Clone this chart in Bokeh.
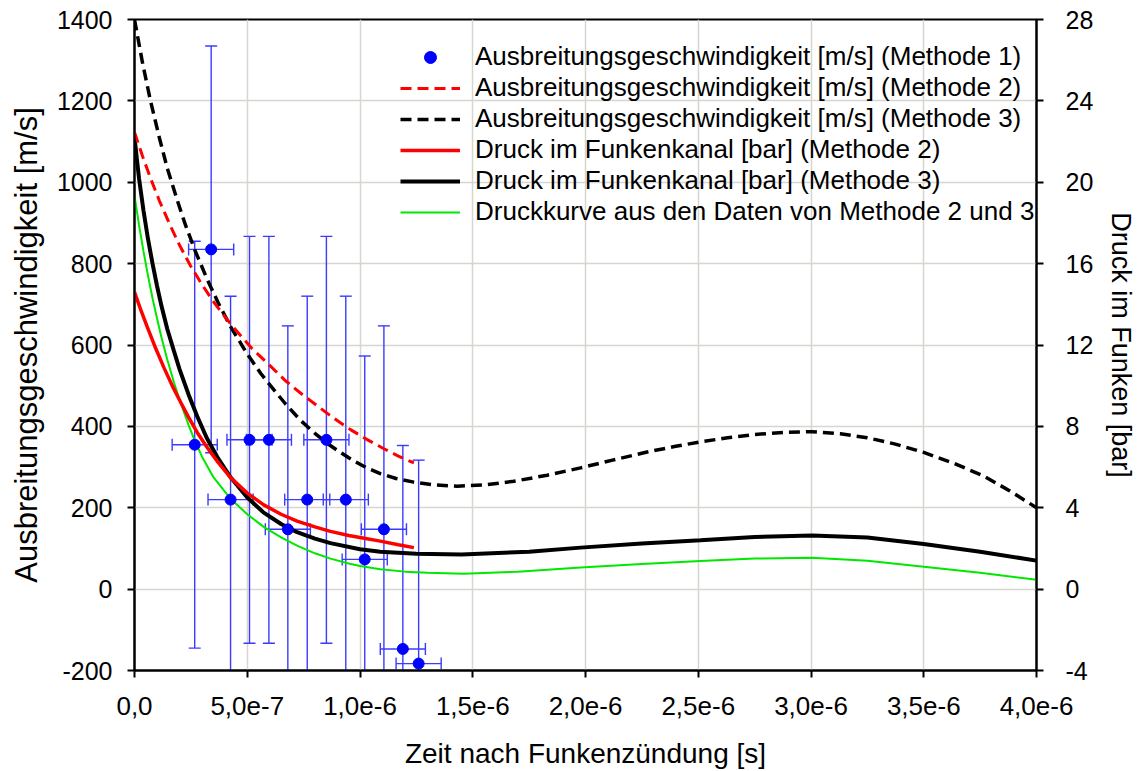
import math
from bokeh.plotting import figure
from bokeh.models import Range1d, LinearAxis, FixedTicker, Legend, LegendItem
from bokeh.embed import file_html
from bokeh.resources import INLINE

US = 1e-6  # microseconds -> seconds

# ---------------- data ----------------
# Methode 1: measured propagation speed with error bars
m1_t_us = [0.267, 0.340, 0.426, 0.510, 0.596, 0.680, 0.766, 0.851, 0.937, 1.021, 1.106, 1.190, 1.260]
m1_v = [355, 835, 220, 367, 367, 147, 220, 367, 220, 73, 147, -147, -183]
m1_t_err_us = 0.1
m1_v_err = 500

# Methode 2: propagation speed [m/s] (red dashed)
m2v_t_us = [0.0, 0.035, 0.071, 0.11, 0.16, 0.2, 0.248, 0.3, 0.352, 0.4, 0.455, 0.52, 0.603, 0.67,
            0.736, 0.8, 0.855, 0.91, 0.958, 1.03, 1.106, 1.17, 1.239]
m2v_v = [1123, 1065, 1010, 955, 892, 845, 795, 748, 705, 670, 633, 592, 548, 512,
         482, 455, 432, 410, 392, 368, 345, 327, 310]

# Methode 3: propagation speed [m/s] (black dashed)
m3v_t_us = [0.0, 0.035, 0.071, 0.11, 0.145, 0.19, 0.226, 0.27, 0.322, 0.37, 0.426, 0.5, 0.56, 0.603,
            0.67, 0.736, 0.8, 0.855, 0.91, 0.97, 1.03, 1.09, 1.16, 1.239, 1.33, 1.431, 1.55, 1.682,
            1.83, 1.978, 2.12, 2.273, 2.4, 2.51, 2.63, 2.75, 2.88, 3.005, 3.13, 3.249, 3.37, 3.5,
            3.63, 3.766, 3.88, 4.0]
m3v_v = [1400, 1295, 1200, 1110, 1035, 955, 895, 830, 762, 705, 645, 578, 530, 500,
         455, 415, 383, 358, 337, 316, 298, 284, 272, 263, 256, 253, 256, 265,
         280, 298, 317, 337, 351, 362, 372, 380, 385, 387, 382, 372, 357, 336,
         310, 278, 242, 200]

# Methode 2: pressure [bar] (red solid)
m2p_t_us = [0.0, 0.03, 0.056, 0.09, 0.13, 0.17, 0.204, 0.24, 0.278, 0.32, 0.37, 0.426, 0.5, 0.573,
            0.65, 0.721, 0.8, 0.869, 0.95, 1.0, 1.09, 1.17, 1.239]
m2p_bar = [14.6, 13.66, 12.9, 11.94, 10.9, 9.94, 9.2, 8.44, 7.7, 7.0, 6.24, 5.48, 4.72, 4.14,
           3.68, 3.34, 3.06, 2.84, 2.64, 2.54, 2.36, 2.18, 2.04]

# Methode 3: pressure [bar] (black solid)
m3p_t_us = [0.0, 0.02, 0.04, 0.06, 0.08, 0.1, 0.12, 0.145, 0.175, 0.2, 0.24, 0.278, 0.32, 0.37,
            0.426, 0.5, 0.573, 0.65, 0.721, 0.8, 0.869, 1.0, 1.09, 1.25, 1.45, 1.75, 1.978, 2.25,
            2.51, 2.75, 3.005, 3.25, 3.5, 3.75, 4.0]
m3p_bar = [22.2, 20.2, 18.6, 17.2, 16.0, 14.9, 13.9, 12.8, 11.7, 10.8, 9.56, 8.5, 7.44, 6.44,
           5.5, 4.5, 3.76, 3.2, 2.8, 2.48, 2.26, 1.96, 1.84, 1.74, 1.7, 1.84, 2.04, 2.24,
           2.4, 2.56, 2.64, 2.54, 2.22, 1.84, 1.4]

# Pressure curve from data of Methode 2 and 3 (green)
gp_t_us = [0.0, 0.02, 0.04, 0.06, 0.08, 0.1, 0.12, 0.145, 0.175, 0.2, 0.24, 0.267, 0.3, 0.35,
           0.426, 0.5, 0.573, 0.65, 0.721, 0.8, 0.869, 0.95, 1.0, 1.09, 1.2, 1.3, 1.46, 1.7,
           1.978, 2.25, 2.51, 2.75, 3.005, 3.25, 3.5, 3.75, 4.0]
gp_bar = [19.34, 17.9, 16.6, 15.4, 14.3, 13.3, 12.36, 11.3, 10.16, 9.3, 8.06, 7.3, 6.5, 5.5,
          4.44, 3.68, 3.06, 2.54, 2.14, 1.76, 1.5, 1.26, 1.14, 0.98, 0.86, 0.8, 0.76, 0.86,
          1.06, 1.24, 1.38, 1.5, 1.54, 1.4, 1.1, 0.8, 0.46]

x_ticks = [0.0, 5e-7, 1e-6, 1.5e-6, 2e-6, 2.5e-6, 3e-6, 3.5e-6, 4e-6]
x_tick_labels = ["0,0", "5,0e-7", "1,0e-6", "1,5e-6", "2,0e-6", "2,5e-6", "3,0e-6", "3,5e-6", "4,0e-6"]
y_ticks = [-200, 0, 200, 400, 600, 800, 1000, 1200, 1400]
y_tick_labels = ["-200", "0", "200", "400", "600", "800", "1000", "1200", "1400"]
bar_ticks = [-4, 0, 4, 8, 12, 16, 20, 24, 28]
bar_tick_labels = ["-4", "0", "4", "8", "12", "16", "20", "24", "28"]

legend_labels = [
    "Ausbreitungsgeschwindigkeit [m/s] (Methode 1)",
    "Ausbreitungsgeschwindigkeit [m/s] (Methode 2)",
    "Ausbreitungsgeschwindigkeit [m/s] (Methode 3)",
    "Druck im Funkenkanal [bar] (Methode 2)",
    "Druck im Funkenkanal [bar] (Methode 3)",
    "Druckkurve aus den Daten von Methode 2 und 3",
]

def sec(arr):
    return [v * US for v in arr]

FONT = "Liberation Sans"
BLUE = "#0000ff"
EBLUE = "#3b3bff"
RED = "#ff0000"
GREEN = "#00e800"

p = figure(width=1141, height=771, output_backend="svg", toolbar_location=None,
           x_range=Range1d(0, 4e-6), y_range=Range1d(-200, 1400),
           min_border_left=134, min_border_right=105, min_border_top=19, min_border_bottom=101)
p.extra_y_ranges = {"bar": Range1d(-4, 28)}

p.background_fill_color = "white"
p.border_fill_color = "white"
p.outline_line_color = "black"
p.outline_line_width = 2

# grid
p.xgrid.ticker = FixedTicker(ticks=x_ticks)
p.ygrid.ticker = FixedTicker(ticks=y_ticks)
for g in (p.xgrid, p.ygrid):
    g.grid_line_color = "#d6d6ce"
    g.grid_line_width = 1.5

# axes
p.xaxis.ticker = FixedTicker(ticks=x_ticks)
p.xaxis.major_label_overrides = dict(zip(x_ticks, x_tick_labels))
p.xaxis.axis_label = "Zeit nach Funkenzündung [s]"
p.yaxis.ticker = FixedTicker(ticks=y_ticks)
p.yaxis.major_label_overrides = dict(zip(y_ticks, y_tick_labels))
p.yaxis.axis_label = "Ausbreitungsgeschwindigkeit [m/s]"

rax = LinearAxis(y_range_name="bar", ticker=FixedTicker(ticks=bar_ticks),
                 axis_label="Druck im Funken [bar]")
rax.major_label_overrides = dict(zip(bar_ticks, bar_tick_labels))
p.add_layout(rax, "right")

for ax in (p.xaxis[0], p.yaxis[0], rax):
    ax.axis_line_width = 2
    ax.axis_line_color = "black"
    ax.major_tick_line_width = 2
    ax.major_tick_line_color = "black"
    ax.major_tick_out = 7
    ax.major_tick_in = 0
    ax.minor_tick_out = 0
    ax.minor_tick_in = 0
    ax.major_label_text_font = FONT
    ax.major_label_text_color = "black"
    ax.axis_label_text_font = FONT
    ax.axis_label_text_font_style = "normal"
    ax.axis_label_text_color = "black"

p.xaxis.major_label_text_font_size = "26px"
p.xaxis.major_label_standoff = 19
p.xaxis.axis_label_text_font_size = "28px"
p.xaxis.axis_label_standoff = 20

p.yaxis.major_label_text_font_size = "25px"
p.yaxis.major_label_standoff = 15
p.yaxis.axis_label_text_font_size = "31px"
p.yaxis.axis_label_standoff = 10

rax.major_label_text_font_size = "25px"
rax.major_label_standoff = 22
rax.axis_label_text_font_size = "27px"
rax.axis_label_standoff = 10

# ---------------- error bars (Methode 1) ----------------
t1 = sec(m1_t_us)
terr = m1_t_err_us * US
v_lo = [v - m1_v_err for v in m1_v]
v_hi = [v + m1_v_err for v in m1_v]
t_lo = [t - terr for t in t1]
t_hi = [t + terr for t in t1]
p.segment(x0=t1, y0=v_lo, x1=t1, y1=v_hi, line_color=EBLUE, line_width=1.4)
p.segment(x0=t_lo, y0=m1_v, x1=t_hi, y1=m1_v, line_color=EBLUE, line_width=1.4)
p.scatter(x=t1 + t1, y=v_lo + v_hi, marker="dash", size=12, line_color=EBLUE, line_width=1.4)
p.scatter(x=t_lo + t_hi, y=m1_v + m1_v, marker="dash", size=12, angle=math.pi / 2,
          line_color=EBLUE, line_width=1.4)

# ---------------- curves ----------------
r_gp = p.line(sec(gp_t_us), gp_bar, y_range_name="bar", line_color=GREEN, line_width=2)
r_m3p = p.line(sec(m3p_t_us), m3p_bar, y_range_name="bar", line_color="black", line_width=4)
r_m2p = p.line(sec(m2p_t_us), m2p_bar, y_range_name="bar", line_color=RED, line_width=3.5)
r_m3v = p.line(sec(m3v_t_us), m3v_v, line_color="black", line_width=3.5, line_dash="11 6")
r_m2v = p.line(sec(m2v_t_us), m2v_v, line_color=RED, line_width=3, line_dash="11 6")
r_m1 = p.scatter(t1, m1_v, size=11, fill_color=BLUE, line_color=BLUE)

legend = Legend(items=[
    LegendItem(label=legend_labels[0], renderers=[r_m1]),
    LegendItem(label=legend_labels[1], renderers=[r_m2v]),
    LegendItem(label=legend_labels[2], renderers=[r_m3v]),
    LegendItem(label=legend_labels[3], renderers=[r_m2p]),
    LegendItem(label=legend_labels[4], renderers=[r_m3p]),
    LegendItem(label=legend_labels[5], renderers=[r_gp]),
], location=(266, 443))
legend.background_fill_alpha = 0
legend.border_line_alpha = 0
legend.padding = 0
legend.margin = 0
legend.spacing = 0
legend.glyph_width = 60
legend.glyph_height = 30
legend.label_height = 30
legend.label_standoff = 15
legend.label_text_font = FONT
legend.label_text_font_size = "26px"
legend.label_text_line_height = 1.0
legend.label_text_color = "black"
p.add_layout(legend, "center")

open("out.html", "w").write(file_html(p, INLINE))
